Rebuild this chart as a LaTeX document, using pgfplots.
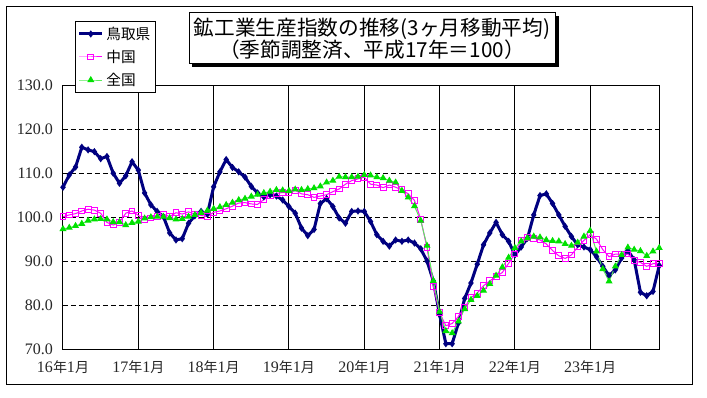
\documentclass[border=0pt]{standalone}
\usepackage{fontspec}
\setmainfont{Liberation Serif}
\newfontfamily\cjk{Noto Sans CJK JP}
\usepackage{pgfplots}
\usepackage{pgfplotstable}
\pgfplotsset{compat=1.18}
\definecolor{tnavy}{RGB}{0,0,128}
\definecolor{cmag}{RGB}{255,0,255}
\definecolor{zgreen}{RGB}{0,225,0}
\definecolor{zline}{RGB}{90,235,90}
\newcommand\ym[1]{#1{\cjk\fontsize{10.5}{12}\selectfont 年}1{\cjk\fontsize{10.5}{12}\selectfont 月}}
\pgfplotstableread{
m T C Z
0 106.8 100.1 97.3
1 109.6 100.5 97.6
2 111.4 100.8 98.0
3 115.9 101.4 98.5
4 115.3 101.8 99.2
5 114.9 101.6 99.5
6 113.3 100.9 99.6
7 113.8 98.8 99.5
8 110.0 98.2 98.9
9 107.7 98.8 98.9
10 109.4 100.9 98.2
11 112.6 101.4 98.7
12 110.7 100.4 99.0
13 105.5 99.5 99.7
14 102.8 99.8 100.0
15 101.3 100.1 100.1
16 100.1 100.7 100.1
17 96.4 100.1 99.8
18 94.8 101.0 99.5
19 95.1 100.7 99.6
20 98.6 101.2 100.1
21 100.3 100.7 100.5
22 101.3 100.4 101.0
23 100.7 100.1 101.5
24 106.9 101.1 101.9
25 110.3 101.4 102.3
26 113.1 101.9 102.8
27 111.3 102.5 103.3
28 110.3 103.2 103.9
29 109.1 103.3 104.2
30 107.0 103.0 104.7
31 105.5 102.9 105.1
32 104.6 104.0 105.5
33 105.1 105.0 105.8
34 104.8 105.4 106.2
35 103.9 105.6 106.1
36 102.4 105.5 106.0
37 100.9 106.1 106.3
38 97.5 105.3 106.2
39 95.8 105.1 106.4
40 97.2 104.5 106.6
41 103.1 104.8 107.0
42 104.2 105.1 107.9
43 102.4 105.8 108.3
44 99.8 106.4 109.2
45 98.6 107.5 109.1
46 101.3 108.3 109.1
47 101.4 108.7 109.2
48 101.3 109.1 109.6
49 99.0 107.5 109.5
50 96.0 107.3 109.1
51 94.5 106.7 108.9
52 93.4 107.3 108.3
53 94.8 106.8 107.9
54 94.5 106.2 106.0
55 94.8 105.3 104.5
56 94.1 103.8 102.5
57 92.8 99.5 99.2
58 90.0 93.0 93.5
59 85.5 84.2 85.5
60 77.8 78.3 78.5
61 71.2 75.3 74.1
62 71.2 75.8 73.6
63 75.9 77.4 76.3
64 81.5 79.5 79.1
65 85.0 81.7 81.2
66 89.3 82.7 82.1
67 93.7 84.4 83.3
68 96.4 85.5 84.8
69 98.8 86.5 86.7
70 96.0 87.4 88.6
71 94.5 89.5 90.8
72 91.4 91.6 93.0
73 93.2 94.8 94.5
74 95.2 95.4 95.2
75 100.5 95.2 95.6
76 104.9 94.8 95.4
77 105.3 93.9 94.8
78 103.1 92.4 94.6
79 100.5 91.2 94.5
80 97.9 90.6 93.9
81 95.6 91.4 93.5
82 93.7 93.2 94.2
83 93.2 94.7 95.6
84 92.6 96.0 96.9
85 91.0 95.0 92.2
86 88.8 92.6 88.2
87 86.7 91.0 85.4
88 88.0 91.6 88.8
89 90.7 91.6 91.4
90 92.4 91.6 93.1
91 90.3 90.1 92.6
92 82.9 89.7 92.3
93 82.1 88.8 91.2
94 83.1 89.4 92.2
95 89.0 89.5 93.0
}\data
\begin{document}
\begin{tikzpicture}
\path[use as bounding box] (0,0) rectangle (530.25pt,297.75pt);
\draw[line width=0.75pt] (4.5pt,9.75pt) rectangle (519pt,292.5pt);
\begin{axis}[
  at={(47.25pt,36pt)}, anchor=south west, scale only axis,
  width=447.2pt, height=197.8pt,
  xmin=0, xmax=95, ymin=70, ymax=130,
  xtick={0,12,...,84},
  xticklabels={\ym{16},\ym{17},\ym{18},\ym{19},\ym{20},\ym{21},\ym{22},\ym{23}},
  ytick={70,80,...,130},
  yticklabels={70.0,80.0,90.0,100.0,110.0,120.0,130.0},
  major tick length=0pt,
  xmajorgrids, ymajorgrids,
  x grid style={black, line width=0.75pt},
  y grid style={black, line width=0.75pt, dash pattern=on 3.75pt off 2.25pt},
  axis line style={black, line width=0.75pt},
  tick label style={font=\fontsize{12}{12}\selectfont, text=black!85},
  yticklabel style={xshift=-4pt},
  xticklabel style={yshift=-5pt},
  legend style={at={(0.0201,1.243)}, anchor=north west, draw=black, fill=white,
    font=\cjk\fontsize{11}{12}\selectfont, row sep=2.5pt, inner sep=2pt},
  legend cell align=left,
  clip=false,
]
\addplot[tnavy, line width=2.25pt, mark=diamond*, mark size=0.9pt, mark options={solid}] table[x=m,y=T]{\data};
\addplot[cmag, line width=0.75pt, mark=square, mark size=2.2pt, mark options={fill=white, line width=0.75pt}] table[x=m,y=C]{\data};
\addplot[zline, line width=0.75pt, mark=triangle*, mark size=2.3pt, mark options={draw=zgreen, fill=zgreen}] table[x=m,y=Z]{\data};
\legend{鳥取県,中国,全国}
\end{axis}
\fill[black] (144pt,247.5pt) rectangle (419.25pt,285.75pt);
\filldraw[fill=white, draw=black, line width=0.75pt] (141.75pt,249.75pt) rectangle (416.25pt,288pt);
\node[align=center, font=\cjk\fontsize{15.5}{16.5}\selectfont, inner sep=0pt] at (279pt,269pt) {鉱工業生産指数の推移(3ヶ月移動平均)\\（季節調整済、平成17年＝100）};
\end{tikzpicture}
\end{document}
